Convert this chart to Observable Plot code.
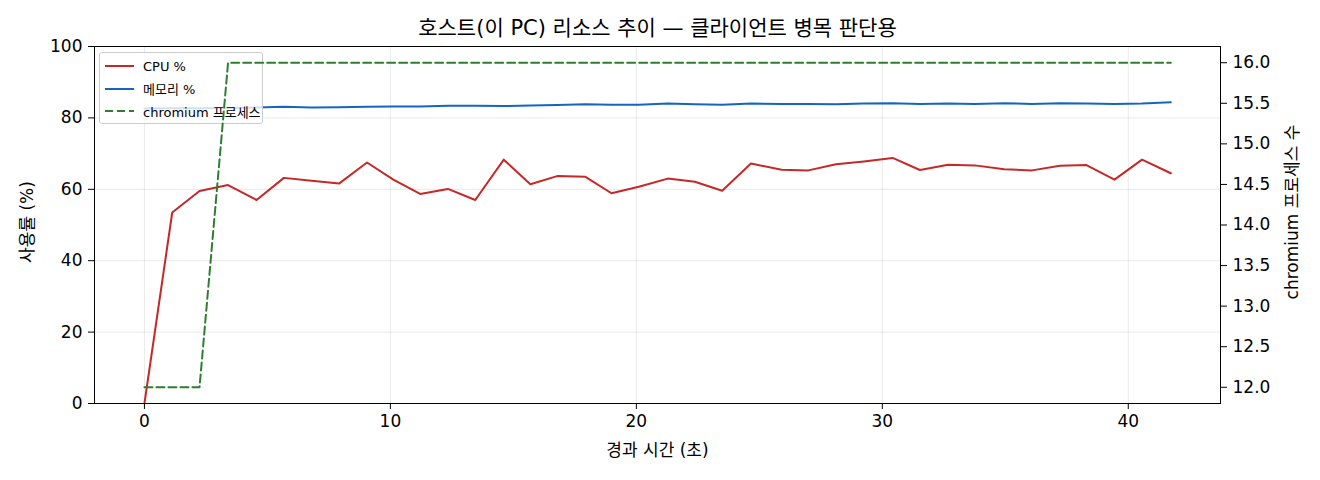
<!DOCTYPE html>
<html>
<head>
<meta charset="utf-8">
<script src="https://cdn.jsdelivr.net/npm/d3@7"></script>
<script src="https://cdn.jsdelivr.net/npm/@observablehq/plot@0.6"></script>
<style>
  html, body { margin: 0; padding: 0; background: #fff; }
  #wrap { position: relative; width: 1320px; height: 480px; font-family: "DejaVu Sans", "Noto Sans CJK KR", sans-serif; color: #000; }
  #wrap > svg { position: absolute; left: 0; top: 0; }
  #legend { position: absolute; left: 99px; top: 52px; width: 164px; height: 72px; box-sizing: border-box;
            background: rgba(255,255,255,0.8); border: 1px solid #cccccc; border-radius: 3px; font-size: 13px; }
  #legend .row { position: absolute; left: 5px; height: 18px; display: flex; align-items: center; white-space: nowrap; }
  #legend svg { margin-right: 9px; }
</style>
</head>
<body>
<div id="wrap"></div>
<script>
// ---- data ----
const times = [0, 1.13, 2.24, 3.40, 4.56, 5.67, 6.80, 7.91, 9.05, 10.12, 11.21, 12.34, 13.45, 14.61, 15.69, 16.78, 17.93, 18.99, 20.10,
               21.28, 22.38, 23.49, 24.66, 25.91, 26.99, 28.12, 29.25, 30.42, 31.53, 32.68, 33.76, 34.96, 36.09, 37.22, 38.30, 39.44, 40.56, 41.73];
const cpu = [0, 53.5, 59.5, 61.2, 57.0, 63.2, 62.4, 61.6, 67.5, 62.7, 58.7, 60.1, 57.0, 68.3, 61.4, 63.7, 63.5, 58.9, 60.7,
             63.0, 62.1, 59.6, 67.2, 65.5, 65.3, 67.0, 67.8, 68.8, 65.4, 66.9, 66.7, 65.6, 65.3, 66.6, 66.8, 62.7, 68.3, 64.5];
const mem = [82.6, 82.7, 82.7, 82.8, 82.9, 83.1, 82.9, 83.0, 83.1, 83.2, 83.2, 83.4, 83.4, 83.3, 83.5, 83.6, 83.8, 83.7, 83.7,
             84.0, 83.8, 83.7, 84.0, 83.9, 83.9, 83.8, 84.0, 84.1, 83.9, 84.0, 83.9, 84.1, 83.9, 84.1, 84.0, 83.9, 84.0, 84.4];
const procs = [12, 12, 12, 16, 16, 16, 16, 16, 16, 16, 16, 16, 16, 16, 16, 16, 16, 16, 16,
               16, 16, 16, 16, 16, 16, 16, 16, 16, 16, 16, 16, 16, 16, 16, 16, 16, 16, 16];
const xTicks = [0, 10, 20, 30, 40];
const leftTicks = [0, 20, 40, 60, 80, 100];
const rightTicks = [12.0, 12.5, 13.0, 13.5, 14.0, 14.5, 15.0, 15.5, 16.0];
const seriesNames = ["CPU %", "메모리 %", "chromium 프로세스"];
const seriesColors = ["#c62828", "#1565c0", "#2e7d32"];
const titleText = "호스트(이 PC) 리소스 추이 — 클라이언트 병목 판단용";
const xLabel = "경과 시간 (초)";
const yLeftLabel = "사용률 (%)";
const yRightLabel = "chromium 프로세스 수";

const rows = times.map((t, i) => ({t, cpu: cpu[i], mem: mem[i], procs: procs[i]}));

const W = 1320, H = 480;
const margins = {marginLeft: 94, marginRight: 100, marginTop: 46, marginBottom: 77};
const xDomain = [-2.03, 43.75];
const font = '"DejaVu Sans", "Noto Sans CJK KR", sans-serif';
const fs = 17;
const gridStyle = {stroke: "#b0b0b0", strokeOpacity: 0.35, strokeWidth: 0.8};
const labelStyle = {fontSize: fs, lineAnchor: "middle", textAnchor: "middle", style: "letter-spacing:0.8px"};

const base = Plot.plot({
  width: W, height: H, ...margins,
  style: {fontFamily: font, fontSize: fs + "px", color: "#000", background: "transparent", overflow: "visible"},
  x: {domain: xDomain},
  y: {domain: [0, 100]},
  marks: [
    Plot.gridX(xTicks, gridStyle),
    Plot.gridY(leftTicks.slice(1, -1), gridStyle),
    Plot.line(rows, {x: "t", y: "cpu", stroke: seriesColors[0], strokeWidth: 2}),
    Plot.line(rows, {x: "t", y: "mem", stroke: seriesColors[1], strokeWidth: 2}),
    Plot.axisX(xTicks, {tickSize: 6, tickPadding: 5, fontSize: fs, label: null}),
    Plot.axisY(leftTicks, {tickSize: 6, tickPadding: 6, fontSize: fs, label: null}),
    Plot.frame({stroke: "#000", strokeWidth: 1}),
    Plot.text([titleText], {frameAnchor: "top", dy: -18, fontSize: 21, lineAnchor: "middle", textAnchor: "middle"}),
    Plot.text([xLabel], {frameAnchor: "bottom", dy: 47, ...labelStyle}),
    Plot.text([yLeftLabel], {frameAnchor: "left", dx: -67, dy: -3, rotate: -90, ...labelStyle})
  ]
});

const overlay = Plot.plot({
  width: W, height: H, ...margins,
  style: {fontFamily: font, fontSize: fs + "px", color: "#000", background: "transparent", overflow: "visible"},
  x: {domain: xDomain, axis: null},
  y: {domain: [11.8, 16.2]},
  marks: [
    Plot.line(rows, {x: "t", y: "procs", stroke: seriesColors[2], strokeWidth: 2, strokeDasharray: "8,4"}),
    Plot.axisY(rightTicks, {anchor: "right", tickSize: 6, tickPadding: 6, fontSize: fs, tickFormat: d => d.toFixed(1), label: null}),
    Plot.text([yRightLabel], {frameAnchor: "right", dx: 72, dy: -13, rotate: -90, fontSize: fs, lineAnchor: "middle", textAnchor: "middle"})
  ]
});

const wrap = document.getElementById("wrap");
wrap.appendChild(base);

// legend (belongs to the left axes, drawn above CPU/memory lines, below the chromium line)
const legend = document.createElement("div");
legend.id = "legend";
seriesNames.forEach((name, i) => {
  const row = document.createElement("div");
  row.className = "row";
  row.style.top = (4 + i * 22.5) + "px";
  const dash = i === 2 ? ' stroke-dasharray="8,4"' : '';
  row.innerHTML = `<svg width="29" height="6"><line x1="0" y1="3" x2="29" y2="3" stroke="${seriesColors[i]}" stroke-width="2"${dash}/></svg><span>${name}</span>`;
  legend.appendChild(row);
});
wrap.appendChild(legend);
wrap.appendChild(overlay);
</script>
</body>
</html>
